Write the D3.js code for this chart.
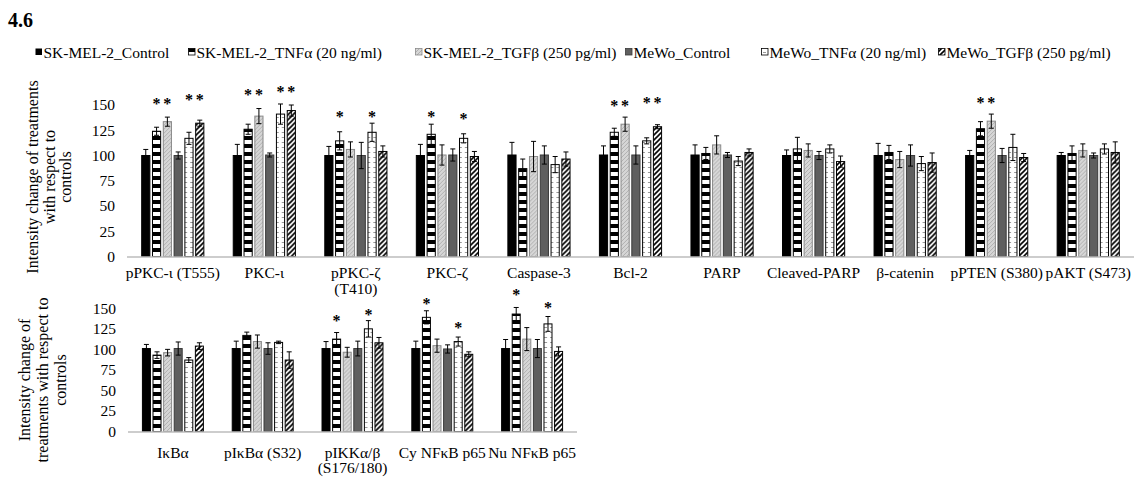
<!DOCTYPE html>
<html>
<head>
<meta charset="utf-8">
<script src="https://cdn.jsdelivr.net/npm/d3@7"></script>
<style>
  body { margin: 0; background: #fff; }
</style>
</head>
<body>
<svg id="chart" width="1135" height="487"></svg>
<script>
// series, in legend order
const seriesNames = [
  "SK-MEL-2_Control", "SK-MEL-2_TNFα (20 ng/ml)", "SK-MEL-2_TGFβ (250 pg/ml)",
  "MeWo_Control", "MeWo_TNFα (20 ng/ml)", "MeWo_TGFβ (250 pg/ml)"
];
const yTicks = [0, 25, 50, 75, 100, 125, 150];

// upper panel
const topCategories = ["pPKC-ι (T555)", "PKC-ι", "pPKC-ζ\n(T410)", "PKC-ζ", "Caspase-3", "Bcl-2",
  "PARP", "Cleaved-PARP", "β-catenin", "pPTEN (S380)", "pAKT (S473)"];
const topMeans = [
  [100, 124, 133.5, 100, 117, 132],
  [100, 126, 139, 100.5, 141, 144.5],
  [100, 114.5, 106, 100, 123, 104],
  [100, 121, 100.5, 100.5, 117, 99],
  [100.5, 87, 99, 100.5, 91, 96.5],
  [100.5, 123, 131, 100.5, 114.5, 128.5],
  [100.5, 102, 110.5, 100.5, 94.5, 103],
  [100, 106.5, 105, 100, 106.5, 94],
  [100, 103, 96, 100, 92, 93],
  [100, 126.5, 134, 100, 108, 98],
  [100, 102, 105, 100, 106.5, 103]
];
const topErrors = [
  [6, 4, 4.5, 3.5, 6, 3],
  [11, 5, 7.5, 2, 10, 5.5],
  [9, 9, 7.5, 13, 9, 5.5],
  [11, 10, 10, 6, 4.5, 5],
  [12.5, 9.5, 15, 9, 8, 7],
  [9, 4, 7, 9, 3, 2],
  [10, 6, 9, 2.5, 4.5, 3.5],
  [5.5, 11.5, 6.5, 4, 4, 5.5],
  [12, 7, 8, 10.5, 7, 9.5],
  [5, 7, 7, 7, 13, 4],
  [3, 7.5, 6.5, 2.5, 5, 10.5]
];
// [category, series, level of the asterisk]
const topStars = [
  [0, 1, 153], [0, 2, 153], [0, 4, 157], [0, 5, 157],
  [1, 1, 161.5], [1, 2, 161.5], [1, 4, 165], [1, 5, 165],
  [2, 1, 140], [2, 4, 140],
  [3, 1, 140], [3, 4, 138.5],
  [5, 1, 151], [5, 2, 151], [5, 4, 154], [5, 5, 154],
  [9, 1, 154], [9, 2, 154]
];

// lower panel
const bottomCategories = ["IκBα", "pIκBα (S32)", "pIKKα/β\n(S176/180)", "Cy NFκB p65", "Nu NFκB p65"];
const bottomMeans = [
  [101, 93, 96, 101, 87, 104],
  [101, 117, 109.5, 101, 108.5, 87],
  [101, 112.5, 96.5, 101, 125, 108],
  [101, 139, 104.5, 100.5, 109.5, 94],
  [101, 143, 112.5, 101, 131, 97.5]
];
const bottomErrors = [
  [5, 4, 4, 8, 3, 4],
  [9, 4, 8, 7, 1.5, 10],
  [8.5, 8, 6, 9, 10, 6.5],
  [9, 8, 8, 5, 5.5, 3],
  [11, 8, 14, 11, 9, 5.5]
];
const bottomStars = [
  [2, 1, 136.5], [2, 4, 144],
  [3, 1, 158], [3, 4, 128],
  [4, 1, 168.5], [4, 4, 153]
];

const FONT = "Liberation Serif";
const svg = d3.select("#chart");
const defs = svg.append("defs");

// bar fills
function pattern(id, w, h, draw) {
  const p = defs.append("pattern").attr("id", id)
    .attr("patternUnits", "userSpaceOnUse").attr("width", w).attr("height", h);
  draw(p);
}
pattern("p1", 8, 8, p => {
  p.append("rect").attr("width", 8).attr("height", 8).attr("fill", "#fff");
  p.append("rect").attr("width", 8).attr("height", 4).attr("fill", "#000");
});
pattern("p2", 4, 4, p => {
  p.append("rect").attr("width", 4).attr("height", 4).attr("fill", "#d6d6d6");
  p.append("path").attr("d", "M0,4L4,0M-1,1L1,-1M3,5L5,3").attr("stroke", "#a6a6a6").attr("stroke-width", 0.8);
});
pattern("p4", 6, 5, p => {
  p.append("rect").attr("width", 6).attr("height", 5).attr("fill", "#fff");
  p.append("rect").attr("x", 1).attr("y", 2).attr("width", 3).attr("height", 1).attr("fill", "#9a9a9a");
});
pattern("p5", 5, 5, p => {
  p.append("rect").attr("width", 5).attr("height", 5).attr("fill", "#fff");
  p.append("path").attr("d", "M0,5L5,0M-1,1L1,-1M4,6L6,4").attr("stroke", "#000").attr("stroke-width", 1.6);
});
const fills = ["#000", "url(#p1)", "url(#p2)", "#5f5f5f", "url(#p4)", "url(#p5)"];
const strokes = ["#000", "#000", "#8a8a8a", "#3a3a3a", "#000", "#000"];

// title
svg.append("text").attr("x", 8).attr("y", 27)
  .style("font-size", "20px").style("font-weight", "bold").text("4.6");

// legend
const legendX = [35, 188, 415, 625, 761, 938];
const legend = svg.append("g");
seriesNames.forEach((name, i) => {
  legend.append("rect").attr("x", legendX[i] + 0.5).attr("y", 48.5).attr("width", 6.5).attr("height", 6.5)
    .attr("fill", fills[i]).attr("stroke", i === 0 ? "none" : strokes[i]).attr("stroke-width", 0.8);
  legend.append("text").attr("x", legendX[i] + 8.5).attr("y", 57.5)
    .style("font-size", "15.5px").text(name);
});

function panel(cfg) {
  const g = svg.append("g");
  const x0 = d3.scaleBand().domain(d3.range(cfg.categories.length))
    .range(cfg.xRange).paddingInner(0.31).paddingOuter(0.155);
  const x1 = d3.scaleBand().domain(d3.range(seriesNames.length))
    .range([0, x0.bandwidth()]).paddingInner(0.15).paddingOuter(0);
  const y = d3.scaleLinear().domain([0, 150]).range(cfg.yRange);

  // y axis (labels only)
  const ax = g.append("g").attr("transform", `translate(${cfg.xRange[0]},0)`)
    .call(d3.axisLeft(y).tickValues(yTicks).tickSize(0).tickPadding(12));
  ax.select(".domain").remove();
  ax.selectAll("text").style("font-size", "15.5px").attr("fill", "#000");

  // bars
  cfg.means.forEach((row, c) => {
    const grp = g.append("g").attr("transform", `translate(${x0(c)},0)`);
    row.forEach((v, s) => {
      grp.append("rect")
        .attr("x", x1(s) + 0.5).attr("y", y(v))
        .attr("width", x1.bandwidth() - 1).attr("height", y(0) - y(v))
        .attr("fill", fills[s]).attr("stroke", strokes[s]).attr("stroke-width", 1);
      const e = cfg.errors[c][s];
      const cx = x1(s) + x1.bandwidth() / 2;
      grp.append("path")
        .attr("d", `M${cx},${y(v - e)}V${y(v + e)}M${cx - 2.5},${y(v - e)}H${cx + 2.5}M${cx - 2.5},${y(v + e)}H${cx + 2.5}`)
        .attr("stroke", "#000").attr("stroke-width", 1).attr("fill", "none");
    });
  });

  // baseline
  g.append("line").attr("x1", cfg.xRange[0]).attr("x2", cfg.xRange[1])
    .attr("y1", y(0) + 0.5).attr("y2", y(0) + 0.5).attr("stroke", "#bdbdbd").attr("stroke-width", 1.5);

  // significance marks
  cfg.stars.forEach(([c, s, lvl]) => {
    g.append("text").attr("x", x0(c) + x1(s) + x1.bandwidth() / 2).attr("y", y(lvl) + 7)
      .attr("text-anchor", "middle").style("font-size", "16px").style("font-weight", "bold").text("*");
  });

  // category labels
  cfg.categories.forEach((label, c) => {
    const t = g.append("text").attr("text-anchor", "middle")
      .attr("x", x0(c) + x0.bandwidth() / 2).attr("y", y(0) + cfg.labelOffset)
      .style("font-size", "15.5px");
    label.split("\n").forEach((line, k) => {
      t.append("tspan").attr("x", x0(c) + x0.bandwidth() / 2).attr("dy", k ? 15.5 : 0).text(line);
    });
  });

  // y title
  const yt = g.append("text").attr("text-anchor", "middle")
    .attr("transform", `translate(${cfg.titleX},${cfg.titleY}) rotate(-90)`)
    .style("font-size", "16px");
  cfg.title.forEach((line, k) => {
    yt.append("tspan").attr("x", 0).attr("dy", k ? cfg.titleGap : 0).text(line);
  });
}

panel({
  categories: topCategories, means: topMeans, errors: topErrors, stars: topStars,
  xRange: [127, 1134], yRange: [256.5, 105], labelOffset: 21.5,
  title: ["Intensity change of treatments", "with respect to", "controls"],
  titleX: 38, titleY: 177, titleGap: 16.5
});
panel({
  categories: bottomCategories, means: bottomMeans, errors: bottomErrors, stars: bottomStars,
  xRange: [128, 577], yRange: [431.5, 308.3], labelOffset: 26,
  title: ["Intensity change of", "treatments with respect to", "controls"],
  titleX: 30, titleY: 380, titleGap: 18
});

svg.selectAll("text").style("font-family", FONT).attr("fill", "#000");
</script>
</body>
</html>
